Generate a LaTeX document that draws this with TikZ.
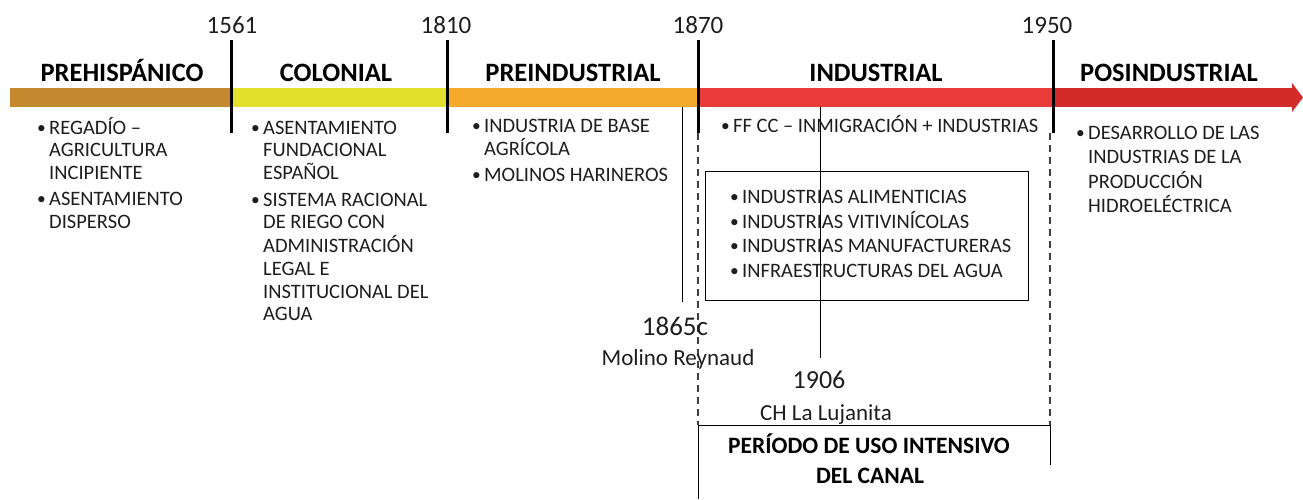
\documentclass[tikz,border=0pt]{standalone}
\usepackage{fontspec}
\setmainfont{Carlito}
\definecolor{cPre}{HTML}{C4882F}
\definecolor{cCol}{HTML}{E4E12E}
\definecolor{cPin}{HTML}{F5AA2B}
\definecolor{cInd}{HTML}{EA3B3B}
\definecolor{cPos}{HTML}{D32A2A}
\definecolor{txt}{HTML}{1E1E1E}
\definecolor{thin}{HTML}{8C8C8C}
\newcommand{\bl}[1]{\begin{tabular}[t]{@{}l@{}l@{}}#1\end{tabular}}
\newcommand{\bu}{\makebox[14pt][l]{\hspace{2pt}\raisebox{1pt}{\scalebox{0.85}{•}}}}
\begin{document}
\begin{tikzpicture}[x=1pt,y=-1pt,
  yr/.style={anchor=base, inner sep=0, font=\fontsize{25}{30}\selectfont, text=txt},
  hdr/.style={anchor=base, inner sep=0, font=\fontsize{26.5}{30}\selectfont\bfseries, text=black},
  bul/.style={anchor=base west, inner sep=0, font=\fontsize{20.5}{22.6}\selectfont, text=txt},
  bulw/.style={anchor=base west, inner sep=0, font=\fontsize{20.5}{24.6}\selectfont, text=txt},
  captxt/.style={anchor=base, inner sep=0, font=\fontsize{23}{28}\selectfont, text=txt},
  yrline/.style={line width=3pt, black},
  thinline/.style={line width=1.1pt, thin},
  dashline/.style={line width=1.8pt, black!75, dash pattern=on 7pt off 5pt},
  boxline/.style={line width=1.3pt, thin}]
\useasboundingbox (0,0) rectangle (1303,499);
\fill[white] (0,0) rectangle (1303,499);

% bar segments
\fill[cPre] (10,88) rectangle (231,107);
\fill[cCol] (231,88) rectangle (447,107);
\fill[cPin] (447,88) rectangle (698,107);
\fill[cInd] (698,88) rectangle (1053,107);
\fill[cPos] (1053,88) rectangle (1294,107);
\fill[cPos] (1292,83) -- (1303,97.5) -- (1292,112) -- cycle;

% thin gray marker lines
\coordinate (m1865t) at (682,107);
\coordinate (m1865b) at (682,302);
\coordinate (m1906t) at (820,107);
\coordinate (m1906b) at (820,358);
\draw[thinline] (m1865t) -- (m1865b);
\draw[thinline] (m1906t) -- (m1906b);

% dashed period lines
\coordinate (d1t) at (698,133);
\coordinate (d1m) at (698,425);
\coordinate (d1b) at (698,499);
\coordinate (d2t) at (1050,133);
\coordinate (d2m) at (1050,425);
\coordinate (d2b) at (1050,465);
\draw[dashline] (d1t) -- (d1m);
\draw[dashline] (d2t) -- (d2m);
\draw[boxline] (d1b) -- (d1m) -- (d2m) -- (d2b);

% industries box
\draw[boxline] (705,171) rectangle (1028,300);

% year lines
\foreach \n/\x in {1561/231,1810/447,1870/698,1950/1053}{
  \coordinate (t\n) at (\x,40);
  \coordinate (e\n) at (\x,133);
  \draw[yrline] (t\n) -- (e\n);
}

% years
\node[yr] (y1561) at (232,33) {1561};
\node[yr] (y1810) at (446,33) {1810};
\node[yr] (y1870) at (698,33) {1870};
\node[yr] (y1950) at (1047,33) {1950};

% headers
\node[hdr] (hPre) at (122,81) {PREHISPÁNICO};
\node[hdr] (hCol) at (336,81) {COLONIAL};
\node[hdr] (hPin) at (573,81) {PREINDUSTRIAL};
\node[hdr] (hInd) at (876,81) {INDUSTRIAL};
\node[hdr] (hPos) at (1169,81) {POSINDUSTRIAL};

% bullet lists
\node[bul] (lPre) at (35,134) {\bl{\bu&REGADÍO –\\ &AGRICULTURA\\ &INCIPIENTE\\[4pt] \bu&ASENTAMIENTO\\ &DISPERSO}};
\node[bul] (lCol) at (249,134) {\bl{\bu&ASENTAMIENTO\\ &FUNDACIONAL\\ &ESPAÑOL\\[4pt] \bu&SISTEMA RACIONAL\\ &DE RIEGO CON\\ &ADMINISTRACIÓN\\ &LEGAL E\\ &INSTITUCIONAL DEL\\ &AGUA}};
\node[bul] (lPin) at (470,132) {\bl{\bu&INDUSTRIA DE BASE\\ &AGRÍCOLA\\[3pt] \bu&MOLINOS HARINEROS}};
\node[bul] (lInd) at (719,132) {\bl{\bu&FF CC – INMIGRACIÓN + INDUSTRIAS}};
\node[bulw] (lBox) at (728,203.5) {\bl{\bu&INDUSTRIAS ALIMENTICIAS\\ \bu&INDUSTRIAS VITIVINÍCOLAS\\ \bu&INDUSTRIAS MANUFACTURERAS\\ \bu&INFRAESTRUCTURAS DEL AGUA}};
\node[bulw] (lPos) at (1074,139) {\bl{\bu&DESARROLLO DE LAS\\ &INDUSTRIAS DE LA\\ &PRODUCCIÓN\\ &HIDROELÉCTRICA}};

% milestones
\node[yr, font=\fontsize{27}{30}\selectfont] (y1865) at (675,335) {1865c};
\node[captxt] (cMol) at (678,365) {Molino Reynaud};
\node[yr, font=\fontsize{26}{30}\selectfont] (y1906) at (819,388) {1906};
\node[captxt] (cLuj) at (826,420) {CH La Lujanita};

% bottom period box text
\node[hdr, font=\fontsize{23.5}{30}\selectfont\bfseries] (pUso) at (869,453) {PERÍODO DE USO INTENSIVO};
\node[hdr, font=\fontsize{23.5}{30}\selectfont\bfseries] (pCan) at (870,483) {DEL CANAL};
\end{tikzpicture}
\end{document}
